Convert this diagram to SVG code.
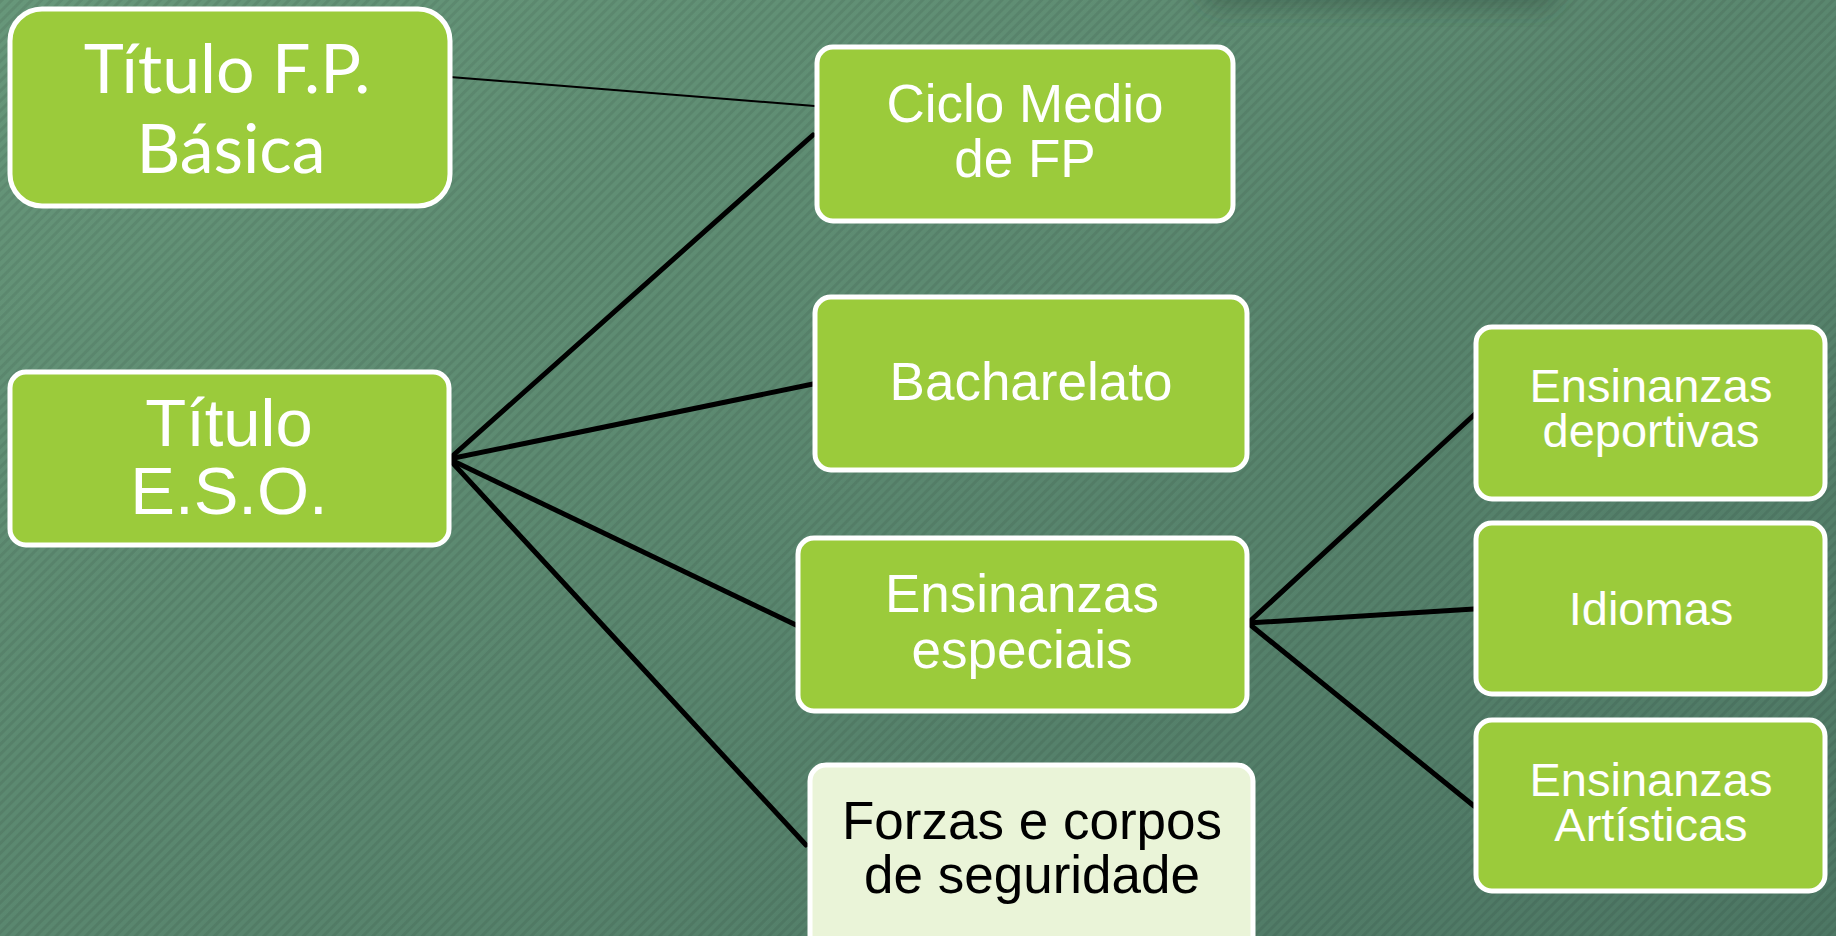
<svg xmlns="http://www.w3.org/2000/svg" width="1836" height="936" viewBox="0 0 1836 936">
<defs>
<linearGradient id="bg" x1="0" y1="0" x2="1" y2="1">
<stop offset="0" stop-color="#67977A"/>
<stop offset="1" stop-color="#4D7764"/>
</linearGradient>
<pattern id="stripes" width="7" height="7" patternUnits="userSpaceOnUse" patternTransform="rotate(45)">
<rect x="0" y="0" width="3" height="7" fill="#000" fill-opacity="0.07"/>
</pattern>
<filter id="blur" x="-50%" y="-50%" width="200%" height="200%"><feGaussianBlur stdDeviation="12"/></filter>
<style>
.box{fill:#9BCB3B;stroke:#FFFFFF;stroke-width:5}
.light{fill:#EAF4D8;stroke:#FFFFFF;stroke-width:5}
.t{font-family:"Liberation Sans",Arial,sans-serif;fill:#FFFFFF;text-anchor:middle}
.tb{font-family:"Liberation Sans",Arial,sans-serif;fill:#000000;text-anchor:middle}
.tc{font-family:Lato,"Open Sans",sans-serif;fill:#FFFFFF;text-anchor:middle}
.c{stroke:#000000;stroke-width:5;fill:none;stroke-linecap:round}
.thin{stroke:#000000;stroke-width:2;fill:none}
</style>
</defs>
<rect width="1836" height="936" fill="url(#bg)"/>
<rect width="1836" height="936" fill="url(#stripes)"/>
<rect x="1200" y="-30" width="360" height="38" rx="19" fill="#2E4A3C" fill-opacity="0.45" filter="url(#blur)"/>

<g id="connectors">
<line class="thin" x1="450" y1="77" x2="827" y2="107"/>
<line class="c" x1="449" y1="459" x2="813" y2="135"/>
<line class="c" x1="449" y1="459" x2="813" y2="384"/>
<line class="c" x1="449" y1="459" x2="796" y2="625"/>
<line class="c" x1="449" y1="459" x2="806" y2="845"/>
<line class="c" x1="1248" y1="623" x2="1475" y2="414"/>
<line class="c" x1="1248" y1="623" x2="1474" y2="609"/>
<line class="c" x1="1248" y1="623" x2="1474" y2="806"/>
</g>

<g id="titulo-fp">
<rect class="box" x="10" y="9" width="440" height="197" rx="32"/>
<text class="tc" x="227" y="93" font-size="68">Título F.P.</text>
<text class="tc" x="231" y="173" font-size="68">Básica</text>
</g>

<g id="titulo-eso">
<rect class="box" x="10" y="372" width="439" height="173" rx="16"/>
<text class="t" x="229" y="446" font-size="67">Título</text>
<text class="t" x="229" y="514" font-size="67">E.S.O.</text>
</g>

<g id="ciclo-medio">
<rect class="box" x="817" y="47" width="416" height="174" rx="16"/>
<text class="t" x="1025" y="122" font-size="53">Ciclo Medio</text>
<text class="t" x="1025" y="177" font-size="53">de FP</text>
</g>

<g id="bacharelato">
<rect class="box" x="815" y="297" width="432" height="173" rx="16"/>
<text class="t" x="1031" y="400" font-size="53">Bacharelato</text>
</g>

<g id="ensinanzas-especiais">
<rect class="box" x="798" y="538" width="449" height="173" rx="16"/>
<text class="t" x="1022" y="612" font-size="53">Ensinanzas</text>
<text class="t" x="1022" y="668" font-size="53">especiais</text>
</g>

<g id="forzas">
<rect class="light" x="810" y="765" width="443" height="190" rx="16"/>
<text class="tb" x="1032" y="839" font-size="53">Forzas e corpos</text>
<text class="tb" x="1032" y="893" font-size="53">de seguridade</text>
</g>

<g id="ensinanzas-deportivas">
<rect class="box" x="1476" y="327" width="349" height="172" rx="16"/>
<text class="t" x="1651" y="402" font-size="47">Ensinanzas</text>
<text class="t" x="1651" y="447" font-size="47">deportivas</text>
</g>

<g id="idiomas">
<rect class="box" x="1476" y="523" width="349" height="171" rx="16"/>
<text class="t" x="1651" y="625" font-size="47">Idiomas</text>
</g>

<g id="ensinanzas-artisticas">
<rect class="box" x="1476" y="720" width="349" height="171" rx="16"/>
<text class="t" x="1651" y="796" font-size="47">Ensinanzas</text>
<text class="t" x="1651" y="841" font-size="47">Artísticas</text>
</g>
</svg>
